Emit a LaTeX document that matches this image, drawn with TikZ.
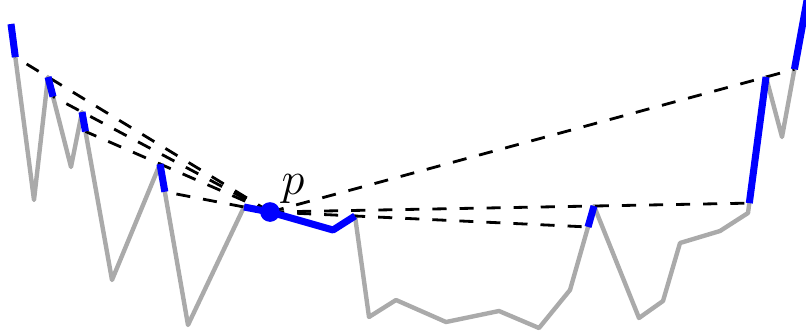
\documentclass[tikz,border=0pt]{standalone}
\usepackage{tikz}
\usetikzlibrary{calc}
\usepackage{xcolor}
\definecolor{ground}{HTML}{AAAAAA}
\definecolor{seen}{HTML}{0000FF}

\begin{document}
\begin{tikzpicture}[x=0.01cm, y=-0.01cm,
  terrain/.style={ground, line width=1.25pt, line join=round},
  visible/.style={seen, line width=2pt},
  sight/.style={black, line width=0.8pt, dash pattern=on 4pt off 3.7pt}]
  \useasboundingbox (0,0) rectangle (806,333);

  % terrain vertices
  \coordinate (t0) at (11,24);
  \coordinate (t1) at (34,200);
  \coordinate (t2) at (48,77);
  \coordinate (t3) at (71,167);
  \coordinate (t4) at (82,112);
  \coordinate (t5) at (112,280);
  \coordinate (t6) at (160,164);
  \coordinate (t7) at (188,325);
  \coordinate (t8) at (244,207);
  \coordinate (p)  at (270,212);
  \coordinate (t9) at (333,230);
  \coordinate (t10) at (355,216);
  \coordinate (t11) at (369,317);
  \coordinate (t12) at (396,300);
  \coordinate (t13) at (446,322);
  \coordinate (t14) at (499,311);
  \coordinate (t15) at (539,328);
  \coordinate (t16) at (570,290);
  \coordinate (t17) at (594,206);
  \coordinate (t18) at (639,318);
  \coordinate (t19) at (663,301);
  \coordinate (t20) at (680,243);
  \coordinate (t21) at (720,231);
  \coordinate (t22) at (748,213);
  \coordinate (t23) at (766,77);
  \coordinate (t24) at (782,137);
  \coordinate (t25) at (808,-5);

  % terrain profile
  \draw[terrain] (t0) -- (t1) -- (t2) -- (t3) -- (t4) -- (t5) -- (t6) -- (t7)
    -- (t8) -- (p) -- (t9) -- (t10) -- (t11) -- (t12) -- (t13) -- (t14) -- (t15)
    -- (t16) -- (t17) -- (t18) -- (t19) -- (t20) -- (t21) -- (t22) -- (t23)
    -- (t24) -- (t25);

  % where the shadows end
  \coordinate (s1) at (intersection of p--t2 and t0--t1);
  \coordinate (s2) at (intersection of p--t4 and t2--t3);
  \coordinate (s3) at (intersection of p--t6 and t4--t5);
  \coordinate (s4) at (intersection of p--t8 and t6--t7);
  \coordinate (s5) at (intersection of p--t10 and t16--t17);
  \coordinate (s6) at (intersection of p--t17 and t22--t23);
  \coordinate (s7) at (intersection of p--t23 and t24--t25);

  % lines of sight
  \foreach \s in {s1,s2,s3,s4,s5,s6,s7}
    \draw[sight] (p) -- (\s);

  % visible parts
  \draw[visible] (t0) -- (s1);
  \draw[visible] (t2) -- (s2);
  \draw[visible] (t4) -- (s3);
  \draw[visible] (t6) -- (s4);
  \draw[visible, line join=round] (t8) -- (p) -- (t9) -- (t10);
  \draw[visible] (s5) -- (t17);
  \draw[visible] (s6) -- (t23);
  \draw[visible] (s7) -- (t25);

  % viewpoint
  \fill[seen] (p) circle (2.8pt);
  \node[font=\large, scale=1.1, inner sep=0pt] (plabel) at (293,189) {$p$};
\end{tikzpicture}
\end{document}
